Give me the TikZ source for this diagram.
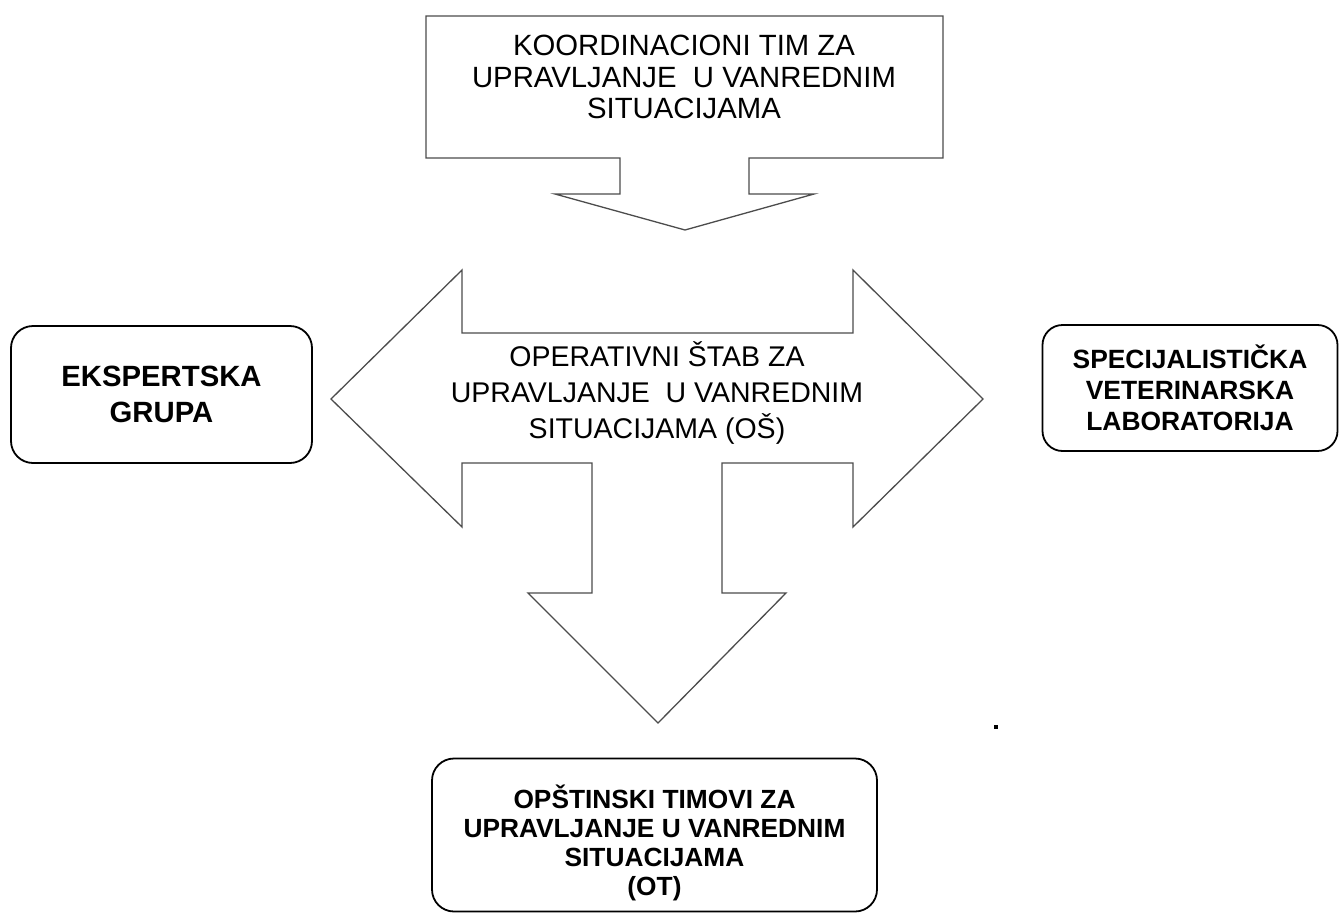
\documentclass[tikz,border=0pt]{standalone}
\usepackage{fontspec}
\setmainfont{Liberation Sans}
\begin{document}
\begin{tikzpicture}[x=1pt, y=-1pt,
	okvir/.style={draw, line width=1.8pt, rounded corners=22pt, align=center, inner sep=0pt},
	strelica/.style={draw=black!70, line width=1.3pt, line join=miter, fill=white},
	natpis/.style={align=center, inner sep=0pt}]
	\useasboundingbox (0,0) rectangle (1339,913);
	       		% koordinacioni tim
	       		\draw[strelica] (426,16) -- (943,16) -- (943,158) -- (749,158) -- (749,194) -- (814,194)
	       		-- (685,230) -- (555,194) -- (620,194) -- (620,158) -- (426,158) -- cycle;
	       		\draw node[natpis, font=\fontsize{29.3}{31.5}\selectfont] (kt) at (684,77)
	       		{KOORDINACIONI TIM ZA\\UPRAVLJANJE\ \ U VANREDNIM\\SITUACIJAMA};
	       		% operativni stab
	       		\draw[strelica] (331,399) -- (462,270) -- (462,333) -- (853,333) -- (853,270) -- (983,399)
	       		-- (853,527) -- (853,463) -- (722,463) -- (722,593) -- (786,593) -- (658,723)
	       		-- (528,593) -- (592,593) -- (592,463) -- (462,463) -- (462,527) -- cycle;
	       		\draw node[natpis, font=\fontsize{28.5}{36}\selectfont] (os) at (657,393)
	       		{OPERATIVNI ŠTAB ZA\\UPRAVLJANJE\ \ U VANREDNIM\\SITUACIJAMA (OŠ)};
	       		% okviri
	       		\draw node[okvir, font=\bfseries\fontsize{29.3}{36}\selectfont,
	       		minimum width=301pt, minimum height=137pt] (eg) at (161.5,394.5) {EKSPERTSKA\\GRUPA};
	       		\draw node[okvir, rounded corners=20pt, font=\bfseries\fontsize{26.4}{31}\selectfont,
	       		minimum width=295pt, minimum height=126pt] (svl) at (1190,388)
	       		{SPECIJALISTIČKA\\VETERINARSKA\\LABORATORIJA};
	       		\draw node[okvir, font=\bfseries\fontsize{26.3}{29}\selectfont,
	       		minimum width=445pt, minimum height=153pt] (ot) at (654.5,835)
	       		{\rule{0pt}{40pt}OPŠTINSKI TIMOVI ZA\\UPRAVLJANJE U VANREDNIM\\SITUACIJAMA\\(OT)};
	       		\fill (994,725) rectangle (998,729);
\end{tikzpicture}
\end{document}
